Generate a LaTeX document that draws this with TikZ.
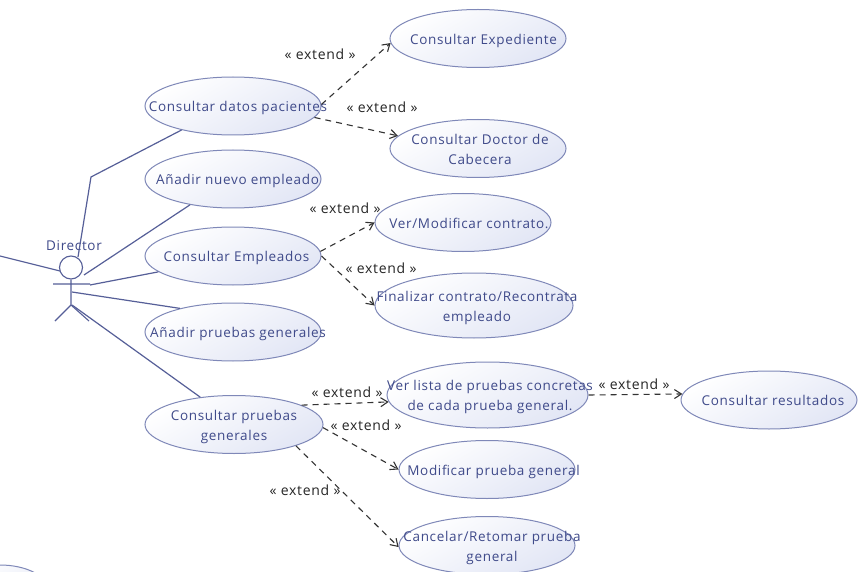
\documentclass[tikz,border=0pt]{standalone}
\usepackage{fontspec}
\setmainfont{Open Sans}[LetterSpace=5]
\usetikzlibrary{shapes.geometric,arrows.meta,shadings}
\definecolor{ucline}{HTML}{7F88B8}
\definecolor{uctext}{HTML}{3F4A8A}
\definecolor{ucfill}{HTML}{E2E6F5}
\definecolor{actline}{HTML}{565F98}
\newcommand{\uclab}[2]{\makebox[0pt][c]{\hspace*{#1}\raisebox{-5.4pt}[0pt][0pt]{\begin{tabular}{@{}c@{}}#2\end{tabular}}}}
\tikzset{
 uc/.style={ellipse,draw=ucline,line width=1pt,inner sep=0pt,top color=white,bottom color=ucfill,shading angle=30,
   text=uctext,font=\fontsize{13.5}{20}\selectfont},
 asso/.style={draw=actline,line width=1.2pt},
 actor/.style={draw=actline,line width=1.1pt},
 ext/.style={draw=black!80,line width=1.1pt,dash pattern=on 6pt off 5pt,-{Straight Barb[length=7pt,width=9pt]}},
 extlab/.style={font=\fontsize{14}{16}\selectfont,text=black!85,inner sep=0pt},
}
\begin{document}
\begin{tikzpicture}[x=1pt,y=-1pt]
\useasboundingbox (0,0) rectangle (859,572);
\fill[white] (0,0) rectangle (859,572);
\begin{scope}
\clip (0,0) rectangle (859,572);
\node[uc,minimum width=96pt,minimum height=50pt] (other) at (0,590) {};
\node[uc,minimum width=176pt,minimum height=58pt] (datos) at (233,106) {\uclab{10pt}{Consultar datos pacientes}};
\node[uc,minimum width=176pt,minimum height=58pt] (nuevo) at (233,179) {\uclab{9pt}{Añadir nuevo empleado}};
\node[uc,minimum width=176pt,minimum height=58pt] (empl) at (233,256) {\uclab{7pt}{Consultar Empleados}};
\node[uc,minimum width=176pt,minimum height=58pt] (addp) at (233,332) {\uclab{10pt}{Añadir pruebas generales}};
\node[uc,minimum width=178pt,minimum height=58pt] (cons) at (234,424.5) {\uclab{0pt}{Consultar pruebas\\generales}};
\node[uc,minimum width=176pt,minimum height=58pt] (exped) at (478,38.5) {\uclab{11pt}{Consultar Expediente}};
\node[uc,minimum width=176pt,minimum height=58pt] (doctor) at (478,148.5) {\uclab{4pt}{Consultar Doctor de\\Cabecera}};
\node[uc,minimum width=176pt,minimum height=58pt] (modif) at (463,222.5) {\uclab{12pt}{Ver/Modificar contrato.}};
\node[uc,minimum width=198pt,minimum height=65pt] (final) at (474,305.5) {\uclab{6pt}{Finalizar contrato/Recontrata\\empleado}};
\node[uc,minimum width=201pt,minimum height=66pt] (lista) at (487.5,395) {\uclab{5pt}{Ver lista de pruebas concretas\\de cada prueba general.}};
\node[uc,minimum width=176pt,minimum height=58pt] (mprueba) at (487,469.5) {\uclab{13pt}{Modificar prueba general}};
\node[uc,minimum width=176pt,minimum height=58pt] (cancel) at (487,545.5) {\uclab{10pt}{Cancelar/Retomar prueba\\general}};
\node[uc,minimum width=176pt,minimum height=58pt] (result) at (769,400) {\uclab{8pt}{Consultar resultados}};
\end{scope}
% actor
\node[circle,actor,minimum size=23pt,inner sep=0pt] (head) at (71,267.5) {};
\coordinate (neck) at (71,279.5);
\coordinate (hip) at (71,305);
\coordinate (armL) at (53,284);
\coordinate (armR) at (90,284);
\coordinate (legL) at (55,321);
\coordinate (legR) at (89,321);
\draw[actor] (neck) -- (hip) (armL) -- (armR) (legL) -- (hip) -- (legR);
\node[font=\fontsize{13.5}{16}\selectfont,text=uctext,inner sep=0pt] (dirlab) at (74,246) {Director};
\coordinate (left) at (0,256);
\coordinate (bend) at (91,177);
\coordinate (a1) at (78,257);
\coordinate (a2) at (84,275);
\coordinate (a3) at (90,285);
\coordinate (a4) at (72,292);
\coordinate (a5) at (72,305);
\coordinate (a6) at (60,271);
\draw[asso] (a1) -- (bend) -- (datos.205);
\draw[asso] (a2) -- (nuevo.211.5);
\draw[asso] (a3) -- (empl.192.3);
\draw[asso] (a4) -- (addp.156);
\draw[asso] (a5) -- (cons.141);
\draw[asso] (left) -- (a6);
% extends
\draw[ext] (datos.1) -- (exped.183.7);
\draw[ext] (datos.-8) -- (doctor.171.4);
\draw[ext] (empl.3.3) -- (modif.180);
\draw[ext] (empl.0) -- (final.180);
\draw[ext] (cons.16) -- (lista.184);
\draw[ext] (cons.-2.3) -- (mprueba.180);
\draw[ext] (cons.-19.4) -- (cancel.181);
\draw[ext] (lista.0) -- (result.176);
\node[extlab] (e1) at (320,54) {« extend »};
\node[extlab] (e2) at (382,107.5) {« extend »};
\node[extlab] (e3) at (345,208.5) {« extend »};
\node[extlab] (e4) at (381,268.5) {« extend »};
\node[extlab] (e5) at (347,392.5) {« extend »};
\node[extlab] (e6) at (366,425.5) {« extend »};
\node[extlab] (e7) at (305,490.5) {« extend »};
\node[extlab] (e8) at (634,384.5) {« extend »};
\end{tikzpicture}
\end{document}
